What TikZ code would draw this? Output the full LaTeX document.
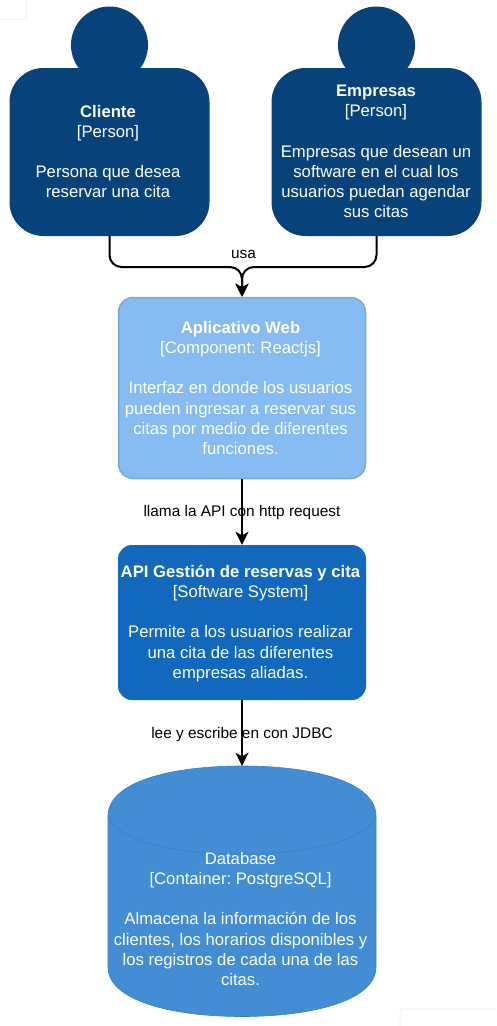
\documentclass[tikz,border=0pt]{standalone}
\usepackage{fontspec}
\setmainfont{Liberation Sans}
\usetikzlibrary{arrows.meta}
\definecolor{personfill}{HTML}{08427B}
\definecolor{webfill}{HTML}{85BBF0}
\definecolor{webline}{HTML}{78A8D8}
\definecolor{apifill}{HTML}{1168BD}
\definecolor{dbfill}{HTML}{438DD5}
\definecolor{dbline}{HTML}{3C7FC0}
\definecolor{faint}{HTML}{F1F1F1}
\tikzset{
  box/.style={rectangle,inner sep=0pt},
  txt/.style={inner sep=0pt,align=center,text=white,font=\fontsize{16.7}{20.1}\selectfont\frenchspacing},
  body/.style={box,fill=personfill,rounded corners=34pt},
  head/.style={circle,fill=personfill,minimum size=77pt,inner sep=0pt},
  conn/.style={draw=black,line width=2pt,-{Stealth[length=13pt,width=13pt,inset=3.5pt]}},
  lbl/.style={inner sep=0pt,font=\fontsize{15.4}{17}\selectfont\frenchspacing,text=black},
}
\begin{document}
\begin{tikzpicture}[x=1pt,y=-1pt]
\useasboundingbox (0,0) rectangle (496,1026);
\fill[white] (0,0) rectangle (496,1026);
% faint page marks
\draw[faint,line width=1pt] (26,0) -- (26,19) -- (0,19);
\draw[faint,line width=1pt,rounded corners=3pt] (400,1026) -- (400,1009) -- (496,1009);
% people
\node[head] (h1) at (109.5,45) {};
\node[head] (h2) at (376.5,45) {};
\node[body,minimum width=200pt,minimum height=168pt] (c1) at (109.5,152) {};
\node[txt] (c1text) at (108,151.5) {\textbf{Cliente}\\{}[Person]\\[20.1pt]Persona que desea\\reservar una cita};
\node[body,minimum width=210pt,minimum height=168pt] (c2) at (376.5,152) {};
\node[txt] (c2text) at (376,151.5) {\textbf{Empresas}\\{}[Person]\\[20.1pt]Empresas que desean un\\software en el cual los\\usuarios puedan agendar\\sus citas};
% web
\node[box,fill=webfill,draw=webline,line width=1.5pt,rounded corners=15pt,minimum width=247pt,minimum height=181pt] (web) at (242,388) {};
\node[txt] (webtext) at (240.5,388) {\textbf{Aplicativo Web}\\{}[Component: Reactjs]\\[20.1pt]Interfaz en donde los usuarios\\pueden ingresar a reservar sus\\citas por medio de diferentes\\funciones.};
% api
\node[box,fill=apifill,rounded corners=14pt,minimum width=248pt,minimum height=155pt] (api) at (242,622.5) {};
\node[txt] (apitext) at (240.5,623.5) {\textbf{API Gestión de reservas y cita}\\{}[Software System]\\[20.1pt]Permite a los usuarios realizar\\una cita de las diferentes\\empresas aliadas.};
% database
\node[inner sep=0pt,minimum width=268pt,minimum height=250pt] (db) at (242,891) {};
\path[fill=dbfill,draw=dbline,line width=0.6pt]
  (108,816) .. controls (108,782) and (170,766) .. (242,766) .. controls (314,766) and (376,782) .. (376,816)
  -- (376,967) .. controls (376,1000) and (314,1016.5) .. (242,1016.5) .. controls (170,1016.5) and (108,1000) .. (108,967) -- cycle;
\draw[dbline,line width=0.6pt] (108,816) .. controls (118,840) and (170,854) .. (242,854) .. controls (314,854) and (366,840) .. (376,816);
\node[txt] (dbtext) at (240.5,919) {Database\\{}[Container: PostgreSQL]\\[20.1pt]Almacena la información de los\\clientes, los horarios disponibles y\\los registros de cada una de las\\citas.};
% connectors
\coordinate (j) at (242,267);
\draw[conn,rounded corners=12pt] (c1.south) |- (j) -- (web.north);
\draw[conn,rounded corners=12pt] (c2.south) |- (j) -- (web.north);
\node[lbl] (l1) at (243.5,254) {usa};
\draw[conn] (web.south) -- (api.north);
\draw[conn] (api.south) -- (db.north);
\node[lbl] (l2) at (242,513) {llama la API con http request};
\node[lbl] (l3) at (242,735) {lee y escribe en con JDBC};
\end{tikzpicture}
\end{document}
